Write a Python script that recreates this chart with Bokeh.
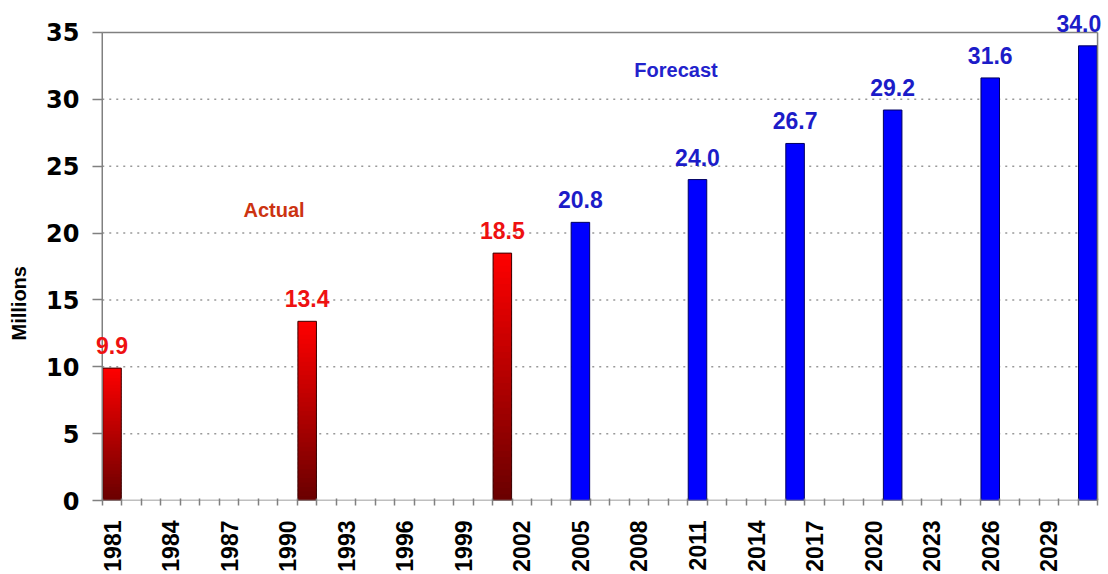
import math
from bokeh.plotting import figure
from bokeh.models import FixedTicker, Label, LabelSet, Range1d, ColumnDataSource
from bokeh.embed import file_html
from bokeh.resources import INLINE
from bokeh.core.properties import value

# ---- data ----
actual_years = [1981, 1991, 2001]
actual_values = [9.9, 13.4, 18.5]
forecast_years = [2005, 2011, 2016, 2021, 2026, 2031]
forecast_values = [20.8, 24.0, 26.7, 29.2, 31.6, 34.0]
tick_years = list(range(1981, 2030, 3))
y_ticks = [0, 5, 10, 15, 20, 25, 30, 35]
first_year, last_year = 1981, 2031
y_max = 35

BAR_W = 0.95
x_lo, x_hi = first_year - 0.5, last_year + 0.5
p = figure(width=1108, height=574,
           x_range=Range1d(x_lo - 0.5, x_hi + 0.56), y_range=Range1d(0, y_max * 1.0683),
           output_backend="svg", toolbar_location=None,
           min_border_left=92, min_border_right=0, min_border_top=0, min_border_bottom=73)
p.background_fill_color = "white"
p.border_fill_color = "white"
p.outline_line_color = None

GRAY = "#808080"
# dotted grid within the plot area
gy = y_ticks[1:-1]
p.segment(x0=[x_lo] * len(gy), y0=gy, x1=[x_hi] * len(gy), y1=gy,
          line_color="#999999", line_dash="2 5", line_width=1.5)

# gradient red bars built as stacked slices of each bar
n = 40
top_c = (255, 0, 0)
bot_c = (105, 0, 0)
xs, bs, ts, cs = [], [], [], []
for yr, v in zip(actual_years, actual_values):
    for k in range(n):
        t = (k + 0.5) / n
        col = tuple(int(round(bot_c[i] * (1 - t) + top_c[i] * t)) for i in range(3))
        xs.append(yr); bs.append(v * k / n); ts.append(min(v, v * (k + 1.6) / n))
        cs.append("#%02x%02x%02x" % col)
p.vbar(x=xs, bottom=bs, top=ts, width=BAR_W, fill_color=cs, line_alpha=0)
p.vbar(x=actual_years, top=actual_values, width=BAR_W, fill_alpha=0,
       line_color="#3a0000", line_width=1)

p.vbar(x=forecast_years, top=forecast_values, width=BAR_W, fill_color="#0000FF",
       line_color="#000060", line_width=1)

# plot-area border: left axis, bottom axis, top and right edges
p.segment(x0=[x_lo, x_lo, x_lo, x_hi], y0=[0, 0, y_max, 0],
          x1=[x_hi, x_lo, x_hi, x_hi], y1=[0, y_max, y_max, y_max],
          line_color=GRAY, line_width=1.5)

# value labels (the label of the last bar is nudged left to stay inside the page)
act_src = ColumnDataSource(dict(x=actual_years, y=actual_values,
                                t=[f"{v:.1f}" for v in actual_values],
                                dx=[0] * len(actual_years)))
fc_src = ColumnDataSource(dict(x=forecast_years, y=forecast_values,
                               t=[f"{v:.1f}" for v in forecast_values],
                               dx=[-9 if yr == last_year else 0 for yr in forecast_years]))
for src, col in ((act_src, "#EE1111"), (fc_src, "#1C1CC8")):
    p.add_layout(LabelSet(x="x", y="y", text="t", source=src, x_offset="dx",
                          text_font=value("Liberation Sans"), text_font_style="bold",
                          text_font_size="23px", text_color=col, text_align="center",
                          text_baseline="alphabetic", y_offset=14))

p.add_layout(Label(x=1989.3, y=21.7, text="Actual", text_align="center", text_baseline="middle",
                   text_font="Liberation Sans", text_font_style="bold", text_font_size="20px",
                   text_color="#CC3311"))
p.add_layout(Label(x=2009.9, y=32.2, text="Forecast", text_align="center", text_baseline="middle",
                   text_font="Liberation Sans", text_font_style="bold", text_font_size="20px",
                   text_color="#2222CC"))

# axes
xa = p.xaxis[0]
xa.ticker = FixedTicker(ticks=tick_years,
                        minor_ticks=[y - 0.5 for y in range(first_year, last_year + 2)])
xa.axis_line_color = None
xa.major_tick_out = 0
xa.major_tick_in = 0
xa.minor_tick_out = 5
xa.minor_tick_in = 2
xa.minor_tick_line_color = GRAY
xa.minor_tick_line_width = 1.5
xa.major_label_orientation = math.pi / 2
xa.major_label_standoff = 15
xa.major_label_text_font = "Liberation Sans"
xa.major_label_text_font_style = "bold"
xa.major_label_text_font_size = "23px"
xa.major_label_text_color = "black"

ya = p.yaxis[0]
ya.ticker = FixedTicker(ticks=y_ticks, minor_ticks=[])
ya.axis_line_color = None
ya.major_tick_out = 0
ya.major_tick_in = 10
ya.major_tick_line_color = GRAY
ya.major_tick_line_width = 1.5
ya.major_label_standoff = 13
ya.major_label_text_font = "DejaVu Sans"
ya.major_label_text_font_style = "bold"
ya.major_label_text_font_size = "24px"
ya.major_label_text_color = "black"
ya.axis_label = "Millions" + "\u00a0" * 19
ya.axis_label_standoff = 13
ya.axis_label_text_font = "Liberation Sans"
ya.axis_label_text_font_style = "bold"
ya.axis_label_text_font_size = "20px"
ya.axis_label_text_color = "black"

p.xgrid.visible = False
p.ygrid.visible = False

open("out.html", "w").write(file_html(p, INLINE))
